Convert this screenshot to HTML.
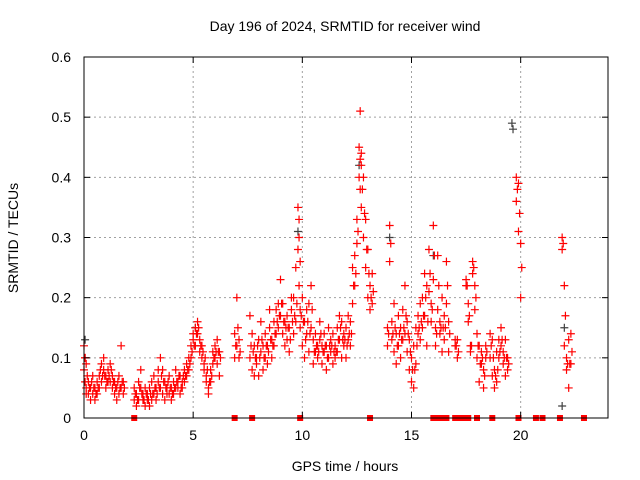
<!DOCTYPE html>
<html><head><meta charset="utf-8"><style>
body{margin:0;background:#fff}
svg{display:block;font-family:"Liberation Sans",sans-serif}
</style></head><body>
<svg id="chart" width="640" height="480">
<rect width="640" height="480" fill="#fff"/>
<text x="345" y="31" text-anchor="middle" font-size="14" fill="#000">Day 196 of 2024, SRMTID for receiver wind</text>
<text x="345" y="471" text-anchor="middle" font-size="14" fill="#000">GPS time / hours</text>
<text transform="translate(18,238) rotate(-90)" text-anchor="middle" font-size="14" fill="#000">SRMTID / TECUs</text>
<g id="grid"></g><g id="marks"></g><g id="axes"></g>
</svg>
<script>
const xTicks=[0,5,10,15,20];
const yTicks=[0,0.1,0.2,0.3,0.4,0.5,0.6];
const yTickLabels=["0","0.1","0.2","0.3","0.4","0.5","0.6"];
const times=[0,0.05,0.1,0.2,0.3,0.4,0.5,0.6,0.7,0.8,0.9,1.0,1.1,1.2,1.3,1.4,1.5,1.6,1.7,1.8,
2.3,2.4,2.5,2.6,2.7,2.8,2.9,3.0,3.1,3.2,3.3,3.4,3.5,3.6,3.7,3.8,3.9,4.0,4.1,4.2,4.3,4.4,4.5,4.6,4.7,4.8,4.9,5.0,5.1,5.2,5.3,5.4,5.5,5.6,5.7,5.8,5.9,6.0,6.1,6.2,
6.9,7.0,7.1,7.6,7.7,7.8,7.9,8.0,8.1,8.2,8.3,8.4,8.5,8.6,8.7,8.8,8.9,9.0,9.1,9.2,9.3,9.4,9.5,9.6,9.7,9.8,9.85,9.9,10.0,10.1,10.2,10.3,10.4,10.5,10.6,10.7,10.8,10.9,11.0,11.1,11.2,11.3,11.4,11.5,11.6,11.7,11.8,11.9,12.0,12.1,12.2,12.3,12.4,12.5,12.6,12.65,12.7,12.8,12.9,13.0,13.1,13.2,
13.9,14.0,14.1,14.2,14.3,14.4,14.5,14.6,14.7,14.8,14.9,15.0,15.1,15.2,15.3,15.4,15.5,15.6,15.7,15.8,15.9,16.0,16.1,16.2,16.3,16.4,16.5,16.6,16.7,17.0,17.1,17.5,17.6,17.7,17.8,17.9,18.0,18.1,18.2,18.3,18.4,18.6,18.7,18.8,18.9,19.0,19.1,19.2,19.3,19.4,19.8,19.9,20.0,21.9,22.0,22.1,22.2,22.3];
const valuesA=[0.12,0.10,0.05,0.04,0.03,0.04,0.05,0.06,0.07,0.09,0.08,0.07,0.08,0.06,0.05,0.06,0.05,0.07,0.05,0.04,
0.05,0.04,0.06,0.05,0.03,0.02,0.04,0.05,0.03,0.07,0.05,0.06,0.10,0.08,0.06,0.05,0.04,0.05,0.06,0.08,0.05,0.07,0.06,0.08,0.07,0.08,0.10,0.13,0.15,0.14,0.13,0.12,0.09,0.07,0.05,0.06,0.09,0.10,0.13,0.11,
0.10,0.12,0.10,0.17,0.08,0.12,0.10,0.13,0.11,0.08,0.10,0.12,0.18,0.13,0.16,0.18,0.15,0.23,0.19,0.12,0.17,0.15,0.18,0.20,0.25,0.35,0.33,0.18,0.20,0.16,0.14,0.19,0.15,0.13,0.11,0.10,0.16,0.09,0.14,0.12,0.10,0.13,0.09,0.12,0.15,0.13,0.10,0.12,0.15,0.13,0.12,0.19,0.27,0.33,0.45,0.51,0.42,0.40,0.33,0.28,0.22,0.19,
0.15,0.32,0.16,0.19,0.14,0.12,0.15,0.18,0.22,0.16,0.13,0.10,0.12,0.09,0.17,0.13,0.20,0.24,0.22,0.28,0.19,0.32,0.15,0.27,0.14,0.20,0.17,0.26,0.16,0.13,0.13,0.22,0.19,0.12,0.24,0.22,0.14,0.12,0.09,0.05,0.10,0.14,0.13,0.08,0.11,0.13,0.15,0.11,0.13,0.10,0.40,0.39,0.29,0.30,0.22,0.10,0.13,0.09];
const valuesB=[0.08,0.06,0.09,0.06,0.05,0.07,0.03,0.04,0.05,0.06,0.10,0.05,0.06,0.09,0.07,0.04,0.03,0.04,0.12,0.06,
0.03,0.02,0.03,0.08,0.04,0.05,0.03,0.02,0.06,0.04,0.03,0.08,0.05,0.04,0.03,0.04,0.07,0.03,0.04,0.05,0.06,0.04,0.05,0.06,0.09,0.10,0.12,0.14,0.12,0.16,0.11,0.10,0.08,0.06,0.04,0.08,0.11,0.12,0.09,0.07,
0.14,0.20,0.13,0.10,0.14,0.07,0.09,0.07,0.16,0.12,0.14,0.09,0.15,0.10,0.12,0.14,0.19,0.17,0.14,0.16,0.13,0.11,0.20,0.14,0.16,0.28,0.22,0.15,0.12,0.10,0.18,0.11,0.22,0.09,0.14,0.12,0.13,0.12,0.11,0.08,0.15,0.11,0.14,0.10,0.11,0.17,0.16,0.14,0.10,0.17,0.16,0.25,0.22,0.29,0.40,0.38,0.35,0.30,0.25,0.20,0.18,0.24,
0.12,0.26,0.13,0.11,0.09,0.17,0.10,0.13,0.14,0.11,0.08,0.06,0.05,0.15,0.14,0.19,0.15,0.17,0.12,0.21,0.16,0.23,0.12,0.18,0.16,0.11,0.13,0.19,0.11,0.12,0.10,0.23,0.16,0.11,0.26,0.18,0.10,0.06,0.11,0.08,0.12,0.10,0.07,0.05,0.06,0.10,0.12,0.09,0.07,0.08,0.36,0.31,0.20,0.28,0.12,0.08,0.05,0.14];
const valuesC=[0.10,0.04,0.07,0.05,0.06,0.05,0.04,0.05,0.08,0.07,0.07,0.06,0.07,0.08,0.06,0.05,0.06,0.05,0.06,0.05,
0.04,0.03,0.05,0.04,0.03,0.04,0.03,0.04,0.04,0.05,0.04,0.05,0.07,0.06,0.05,0.06,0.05,0.04,0.05,0.06,0.07,0.05,0.07,0.07,0.08,0.09,0.11,0.12,0.14,0.15,0.12,0.11,0.10,0.08,0.06,0.07,0.10,0.11,0.11,0.10,
0.12,0.15,0.11,0.12,0.11,0.10,0.12,0.10,0.13,0.10,0.12,0.11,0.13,0.12,0.14,0.16,0.17,0.19,0.16,0.15,0.15,0.13,0.16,0.17,0.19,0.30,0.26,0.17,0.16,0.13,0.16,0.14,0.18,0.11,0.12,0.11,0.14,0.11,0.12,0.10,0.12,0.12,0.11,0.11,0.13,0.15,0.13,0.13,0.12,0.14,0.14,0.22,0.24,0.31,0.43,0.44,0.38,0.34,0.28,0.24,0.20,0.21,
0.14,0.29,0.14,0.15,0.12,0.14,0.13,0.15,0.17,0.14,0.11,0.08,0.08,0.12,0.15,0.16,0.17,0.20,0.16,0.24,0.18,0.27,0.14,0.22,0.15,0.15,0.15,0.22,0.14,0.12,0.11,0.22,0.17,0.12,0.25,0.20,0.12,0.09,0.10,0.07,0.11,0.12,0.10,0.07,0.08,0.11,0.13,0.10,0.10,0.09,0.38,0.34,0.25,0.29,0.17,0.09,0.09,0.11];
const grayTimes=[0.05,5.1,9.8,12.6,14.0,16.0,19.6,19.65,21.9,22.0];
const grayValues=[0.13,0.15,0.31,0.42,0.30,0.27,0.49,0.48,0.02,0.15];
const zeroTimes=[2.3,6.9,7.7,9.9,13.1,16.0,16.2,16.4,16.6,17.0,17.2,17.4,17.6,18.0,18.7,19.9,20.7,21.0,21.8,22.9];
const NS='http://www.w3.org/2000/svg';
const X0=84,X1=608,Y0=418,Y1=57;
const sx=t=>X0+(X1-X0)*t/24;
const sy=v=>Y0-(Y0-Y1)*v/0.6;
function el(tag,attrs,parent){const e=document.createElementNS(NS,tag);for(const k in attrs)e.setAttribute(k,attrs[k]);parent.appendChild(e);return e;}
const grid=document.getElementById('grid'),axes=document.getElementById('axes'),marks=document.getElementById('marks');
xTicks.forEach(t=>{
 if(t>0){const g=el('line',{x1:sx(t),x2:sx(t),y1:Y0,y2:Y1,stroke:'#a0a0a0','stroke-dasharray':'2,3'},grid);
 
 }
 const l=el('text',{x:sx(t),y:Y0+22,'text-anchor':'middle','font-size':'14'},axes);l.textContent=t;
 
 
 el('line',{x1:sx(t),x2:sx(t),y1:Y0,y2:Y0-6,stroke:'#000'},axes);
 el('line',{x1:sx(t),x2:sx(t),y1:Y1,y2:Y1+6,stroke:'#000'},axes);
});
yTicks.forEach((v,i)=>{
 if(v>0&&v<0.6){const g=el('line',{x1:X0,x2:X1,y1:sy(v),y2:sy(v),stroke:'#a0a0a0','stroke-dasharray':'2,3'},grid);
 
 }
 const l=el('text',{x:X0-13,y:sy(v)+5,'text-anchor':'end','font-size':'14'},axes);l.textContent=yTickLabels[i];
 
 
 el('line',{x1:X0,x2:X0+6,y1:sy(v),y2:sy(v),stroke:'#000'},axes);
 el('line',{x1:X1,x2:X1-6,y1:sy(v),y2:sy(v),stroke:'#000'},axes);
});
const frame=el('rect',{x:X0,y:Y1,width:X1-X0,height:Y0-Y1,fill:'none',stroke:'#000'},axes);


function plus(t,v,c){const x=sx(t),y=sy(v);
 const p=el('path',{d:`M${x-4},${y}h8M${x},${y-4}v8`,stroke:c,'stroke-width':1.2,fill:'none'},marks);
 
 }
grayTimes.forEach((t,i)=>plus(t,grayValues[i],'#404040'));
times.forEach((t,i)=>{plus(t,valuesA[i],'#ff0000');plus(t,valuesB[i],'#ff0000');plus(t+0.05,valuesC[i],'#ff0000');});
zeroTimes.forEach(t=>{const r=el('rect',{x:sx(t)-3,y:Y0-3,width:6,height:6,fill:'#ff0000'},marks);
 
 });
</script>
</body></html>
